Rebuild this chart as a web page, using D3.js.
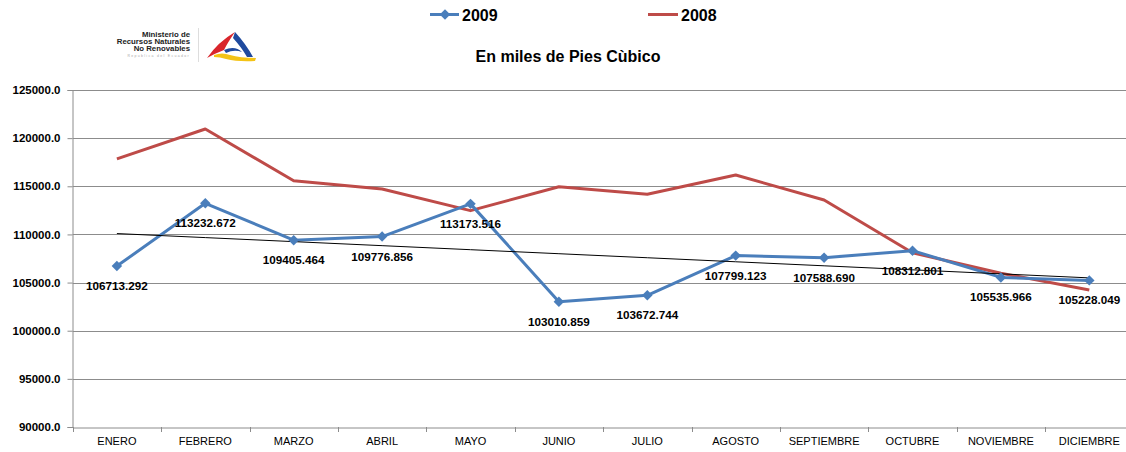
<!DOCTYPE html>
<html>
<head>
<meta charset="utf-8">
<script src="https://cdn.jsdelivr.net/npm/d3@7"></script>
<style>
  body { margin: 0; background: #fff; }
  svg { display: block; font-family: "Liberation Sans", Arial, sans-serif; }
</style>
</head>
<body>
<script>
// datos
const meses = ["ENERO", "FEBRERO", "MARZO", "ABRIL", "MAYO", "JUNIO", "JULIO",
  "AGOSTO", "SEPTIEMBRE", "OCTUBRE", "NOVIEMBRE", "DICIEMBRE"];
const serie2009 = [106713.292, 113232.672, 109405.464, 109776.856, 113173.516, 103010.859,
  103672.744, 107799.123, 107588.690, 108312.801, 105535.966, 105228.049];
const serie2008 = [117840, 120950, 115580, 114720, 112470, 114950,
  114170, 116170, 113580, 108100, 105970, 104230];
const yTicks = [90000, 95000, 100000, 105000, 110000, 115000, 120000, 125000];

const width = 1126;
const height = 452;
const azul = "#4A7EBB";
const rojo = "#BE4B48";

const svg = d3.select("body").append("svg")
  .attr("width", width)
  .attr("height", height);

const x = d3.scaleBand().domain(meses).range([72.7, 72.7 + 12 * 88.4]);
const y = d3.scaleLinear().domain([90000, 125000]).range([427, 90]);
const cx = (m) => x(m) + x.bandwidth() / 2;

// grid
svg.append("g")
  .selectAll("line")
  .data(yTicks.slice(1))
  .join("line")
  .attr("x1", 72.7).attr("x2", width)
  .attr("y1", (d) => Math.round(y(d)) + 0.5).attr("y2", (d) => Math.round(y(d)) + 0.5)
  .attr("stroke", "#8c8c8c");

// ejes
const yAxis = svg.append("g")
  .attr("transform", "translate(72.5,0)")
  .call(d3.axisLeft(y).tickValues(yTicks).tickFormat(d3.format(".1f")).tickSize(5).tickPadding(7));
yAxis.select(".domain").attr("stroke", "#8c8c8c");
yAxis.selectAll(".tick line").attr("stroke", "#8c8c8c");
yAxis.selectAll("text").attr("font-size", 11.5).attr("font-weight", "bold").attr("fill", "#000")
  .attr("font-family", "Liberation Sans, Arial, sans-serif");

const xAxis = svg.append("g")
  .attr("transform", `translate(0,${Math.round(y(90000)) + 0.5})`)
  .call(d3.axisBottom(x).tickSize(0).tickPadding(10));
xAxis.select(".domain").attr("stroke", "#8c8c8c");
xAxis.selectAll("text").attr("font-size", 11).attr("fill", "#000")
  .attr("font-family", "Liberation Sans Narrow, Arial Narrow, sans-serif");
svg.append("g")
  .selectAll("line")
  .data(meses)
  .join("line")
  .attr("x1", (d) => Math.round(x(d)) + 0.5).attr("x2", (d) => Math.round(x(d)) + 0.5)
  .attr("y1", y(90000)).attr("y2", y(90000) + 5)
  .attr("stroke", "#8c8c8c");

// lineas
const linea = d3.line().x((d, i) => cx(meses[i])).y((d) => y(d));

svg.append("path")
  .datum(serie2008)
  .attr("d", linea)
  .attr("fill", "none")
  .attr("stroke", rojo)
  .attr("stroke-width", 3)
  .attr("stroke-linejoin", "round");

svg.append("path")
  .datum(serie2009)
  .attr("d", linea)
  .attr("fill", "none")
  .attr("stroke", azul)
  .attr("stroke-width", 3)
  .attr("stroke-linejoin", "round");

// tendencia lineal de 2009
const n = serie2009.length;
const xm = d3.mean(d3.range(n));
const ym = d3.mean(serie2009);
const pend = d3.sum(serie2009, (v, i) => (i - xm) * (v - ym)) / d3.sum(d3.range(n), (i) => (i - xm) ** 2);
const tend = d3.range(n).map((i) => ym + pend * (i - xm));
svg.append("path")
  .datum(tend)
  .attr("d", linea)
  .attr("fill", "none")
  .attr("stroke", "#000")
  .attr("stroke-width", 1);

const diamante = d3.symbol().type(d3.symbolDiamond2).size(70);
svg.append("g")
  .selectAll("path")
  .data(serie2009)
  .join("path")
  .attr("d", diamante)
  .attr("transform", (d, i) => `translate(${cx(meses[i])},${y(d)})`)
  .attr("fill", azul);

svg.append("g")
  .selectAll("text")
  .data(serie2009)
  .join("text")
  .attr("x", (d, i) => cx(meses[i]))
  .attr("y", (d) => y(d) + 24)
  .attr("text-anchor", "middle")
  .attr("font-size", 11.7)
  .attr("font-weight", "bold")
  .text((d) => d.toFixed(3));

// titulo
svg.append("text")
  .attr("x", 568).attr("y", 62)
  .attr("text-anchor", "middle")
  .attr("font-size", 16).attr("font-weight", "bold")
  .text("En miles de Pies Cùbico");

// leyenda
const ley = svg.append("g");
ley.append("line").attr("x1", 430).attr("x2", 459).attr("y1", 14.5).attr("y2", 14.5)
  .attr("stroke", azul).attr("stroke-width", 3);
ley.append("path").attr("d", diamante).attr("transform", "translate(445,14.5)").attr("fill", azul);
ley.append("text").attr("x", 462).attr("y", 20.5).attr("font-size", 16).attr("font-weight", "bold").text("2009");
ley.append("line").attr("x1", 648).attr("x2", 678).attr("y1", 14.5).attr("y2", 14.5)
  .attr("stroke", rojo).attr("stroke-width", 3);
ley.append("text").attr("x", 681).attr("y", 20.5).attr("font-size", 16).attr("font-weight", "bold").text("2008");

// logo ministerio
const logo = svg.append("g");
logo.selectAll("text.m")
  .data(["Ministerio de", "Recursos Naturales", "No Renovables"])
  .join("text")
  .attr("x", 190).attr("y", (d, i) => 37 + i * 7)
  .attr("text-anchor", "end")
  .attr("font-size", 7.8).attr("font-weight", "bold").attr("fill", "#222")
  .text((d) => d);
logo.append("text").attr("x", 190).attr("y", 56.5).attr("text-anchor", "end")
  .attr("font-size", 3.5).attr("fill", "#aaa").attr("letter-spacing", 1.3)
  .text("Republica del Ecuador");
logo.append("line").attr("x1", 198.5).attr("x2", 198.5).attr("y1", 28).attr("y2", 62)
  .attr("stroke", "#ddd");
// rojo: trazo izquierdo que sube hasta la punta
logo.append("path").attr("d", "M207,58 Q218,42 235,32 Q228,42 224,50 Q216,53 207,58 Z").attr("fill", "#d9262c");
// azul: lado derecho que baja desde la punta
logo.append("path").attr("d", "M235,32 Q246,44 253,57 L247,57 Q242,48 233,38 Z").attr("fill", "#1f4a9e");
logo.append("path").attr("d", "M224,50 Q235,45 242,52 Q234,49 226,53 Z").attr("fill", "#1f4a9e");
// amarillo: banda inferior
logo.append("path").attr("d", "M214,55 Q222,52 230,55 Q240,58 256,58 L255,61 Q238,62 226,59 Q220,57 214,57 Z").attr("fill", "#f4c316");
</script>
</body>
</html>
